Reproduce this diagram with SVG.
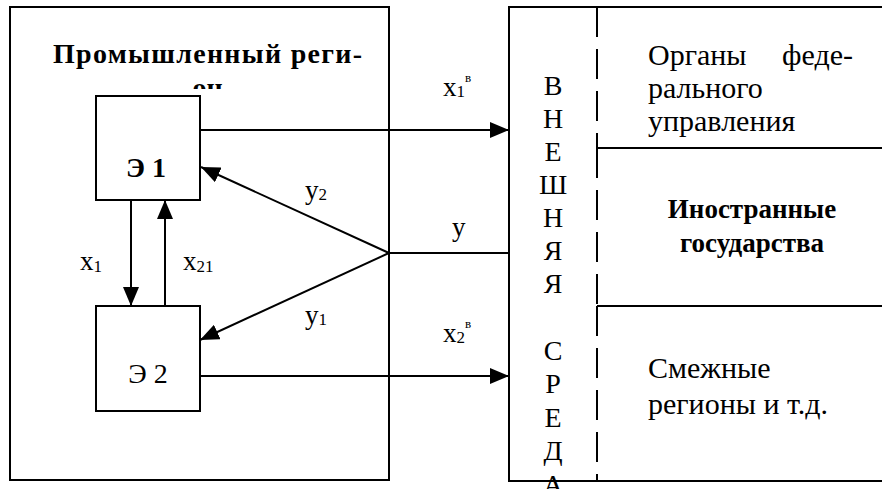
<svg xmlns="http://www.w3.org/2000/svg" width="882" height="489" viewBox="0 0 882 489">
<style>
.box{fill:#fff;stroke:#000;stroke-width:2}
.ln{fill:none;stroke:#000;stroke-width:2}
.dash{fill:none;stroke:#000;stroke-width:2;stroke-dasharray:30 12}
text{font-family:'Liberation Serif','Times New Roman',serif;fill:#000}
</style>
<defs>
<marker id="ah" viewBox="0 0 19 16" refX="19" refY="8" markerWidth="19" markerHeight="16" markerUnits="userSpaceOnUse" orient="auto">
<path d="M0,0 L19,8 L0,16 z" fill="#000"/>
</marker>
<clipPath id="clipTitle"><rect x="0" y="0" width="400" height="89"/></clipPath>
</defs>
<rect width="882" height="489" fill="#fff"/>

<g id="region">
<rect class="box" x="10" y="7" width="379" height="473"/>
<g font-size="28" font-weight="bold" text-anchor="middle">
<text x="207.5" y="63" textLength="309">Промышленный реги-</text>
<text x="207.5" y="97" clip-path="url(#clipTitle)">он</text>
</g>
</g>

<g id="env">
<rect class="box" x="509" y="7" width="400" height="474"/>
<line class="dash" x1="597" y1="7" x2="597" y2="148"/>
<line class="dash" x1="597" y1="148" x2="597" y2="306"/>
<line class="dash" x1="597" y1="306" x2="597" y2="481"/>
<line class="ln" x1="597" y1="148" x2="890" y2="148"/>
<line class="ln" x1="597" y1="306" x2="890" y2="306"/>
<g font-size="28" text-anchor="middle">
<text x="553" y="95">В</text>
<text x="553" y="128">Н</text>
<text x="553" y="161">Е</text>
<text x="553" y="194">Ш</text>
<text x="553" y="227">Н</text>
<text x="553" y="260">Я</text>
<text x="553" y="293">Я</text>
<text x="553" y="360">С</text>
<text x="553" y="393">Р</text>
<text x="553" y="427">Е</text>
<text x="553" y="460">Д</text>
<text x="553" y="494">А</text>
</g>
</g>

<g id="federal" font-size="30">
<text x="648" y="65">Органы</text>
<text x="853" y="65" text-anchor="end">феде-</text>
<text x="648" y="98">рального</text>
<text x="648" y="131">управления</text>
</g>

<g id="foreign" font-size="27" font-weight="bold" text-anchor="middle">
<text x="752" y="218">Иностранные</text>
<text x="752" y="252">государства</text>
</g>

<g id="neighbors" font-size="30">
<text x="648" y="378">Смежные</text>
<text x="648" y="414">регионы и т.д.</text>
</g>

<g id="e1">
<rect class="box" x="96" y="96" width="104" height="104"/>
<text x="146" y="177" font-size="28" font-weight="bold" text-anchor="middle">Э 1</text>
</g>

<g id="e2">
<rect class="box" x="96" y="306" width="104" height="105"/>
<text x="148" y="383" font-size="28" text-anchor="middle">Э 2</text>
</g>

<g id="connectors">
<line class="ln" x1="200" y1="130" x2="509" y2="130" marker-end="url(#ah)"/>
<line class="ln" x1="200" y1="376" x2="509" y2="376" marker-end="url(#ah)"/>
<line class="ln" x1="131" y1="200" x2="131" y2="306" marker-end="url(#ah)"/>
<line class="ln" x1="165" y1="306" x2="165" y2="200" marker-end="url(#ah)"/>
<line class="ln" x1="389" y1="253" x2="509" y2="253"/>
<line class="ln" x1="389" y1="253" x2="201" y2="167" marker-end="url(#ah)"/>
<line class="ln" x1="389" y1="253" x2="200" y2="340" marker-end="url(#ah)"/>
</g>

<g id="labels" font-size="27">
<text x="443" y="96">x<tspan font-size="17" dy="1">1</tspan></text>
<text x="465" y="82" font-size="13">в</text>
<text x="443" y="342">x<tspan font-size="17" dy="1">2</tspan></text>
<text x="465" y="328" font-size="13">в</text>
<text x="452" y="236">у</text>
<text x="305" y="199">у<tspan font-size="17" dy="1">2</tspan></text>
<text x="305" y="324">у<tspan font-size="17" dy="1">1</tspan></text>
<text x="80" y="270">x<tspan font-size="17" dy="2">1</tspan></text>
<text x="183" y="270">x<tspan font-size="17" dy="2">21</tspan></text>
</g>
</svg>
